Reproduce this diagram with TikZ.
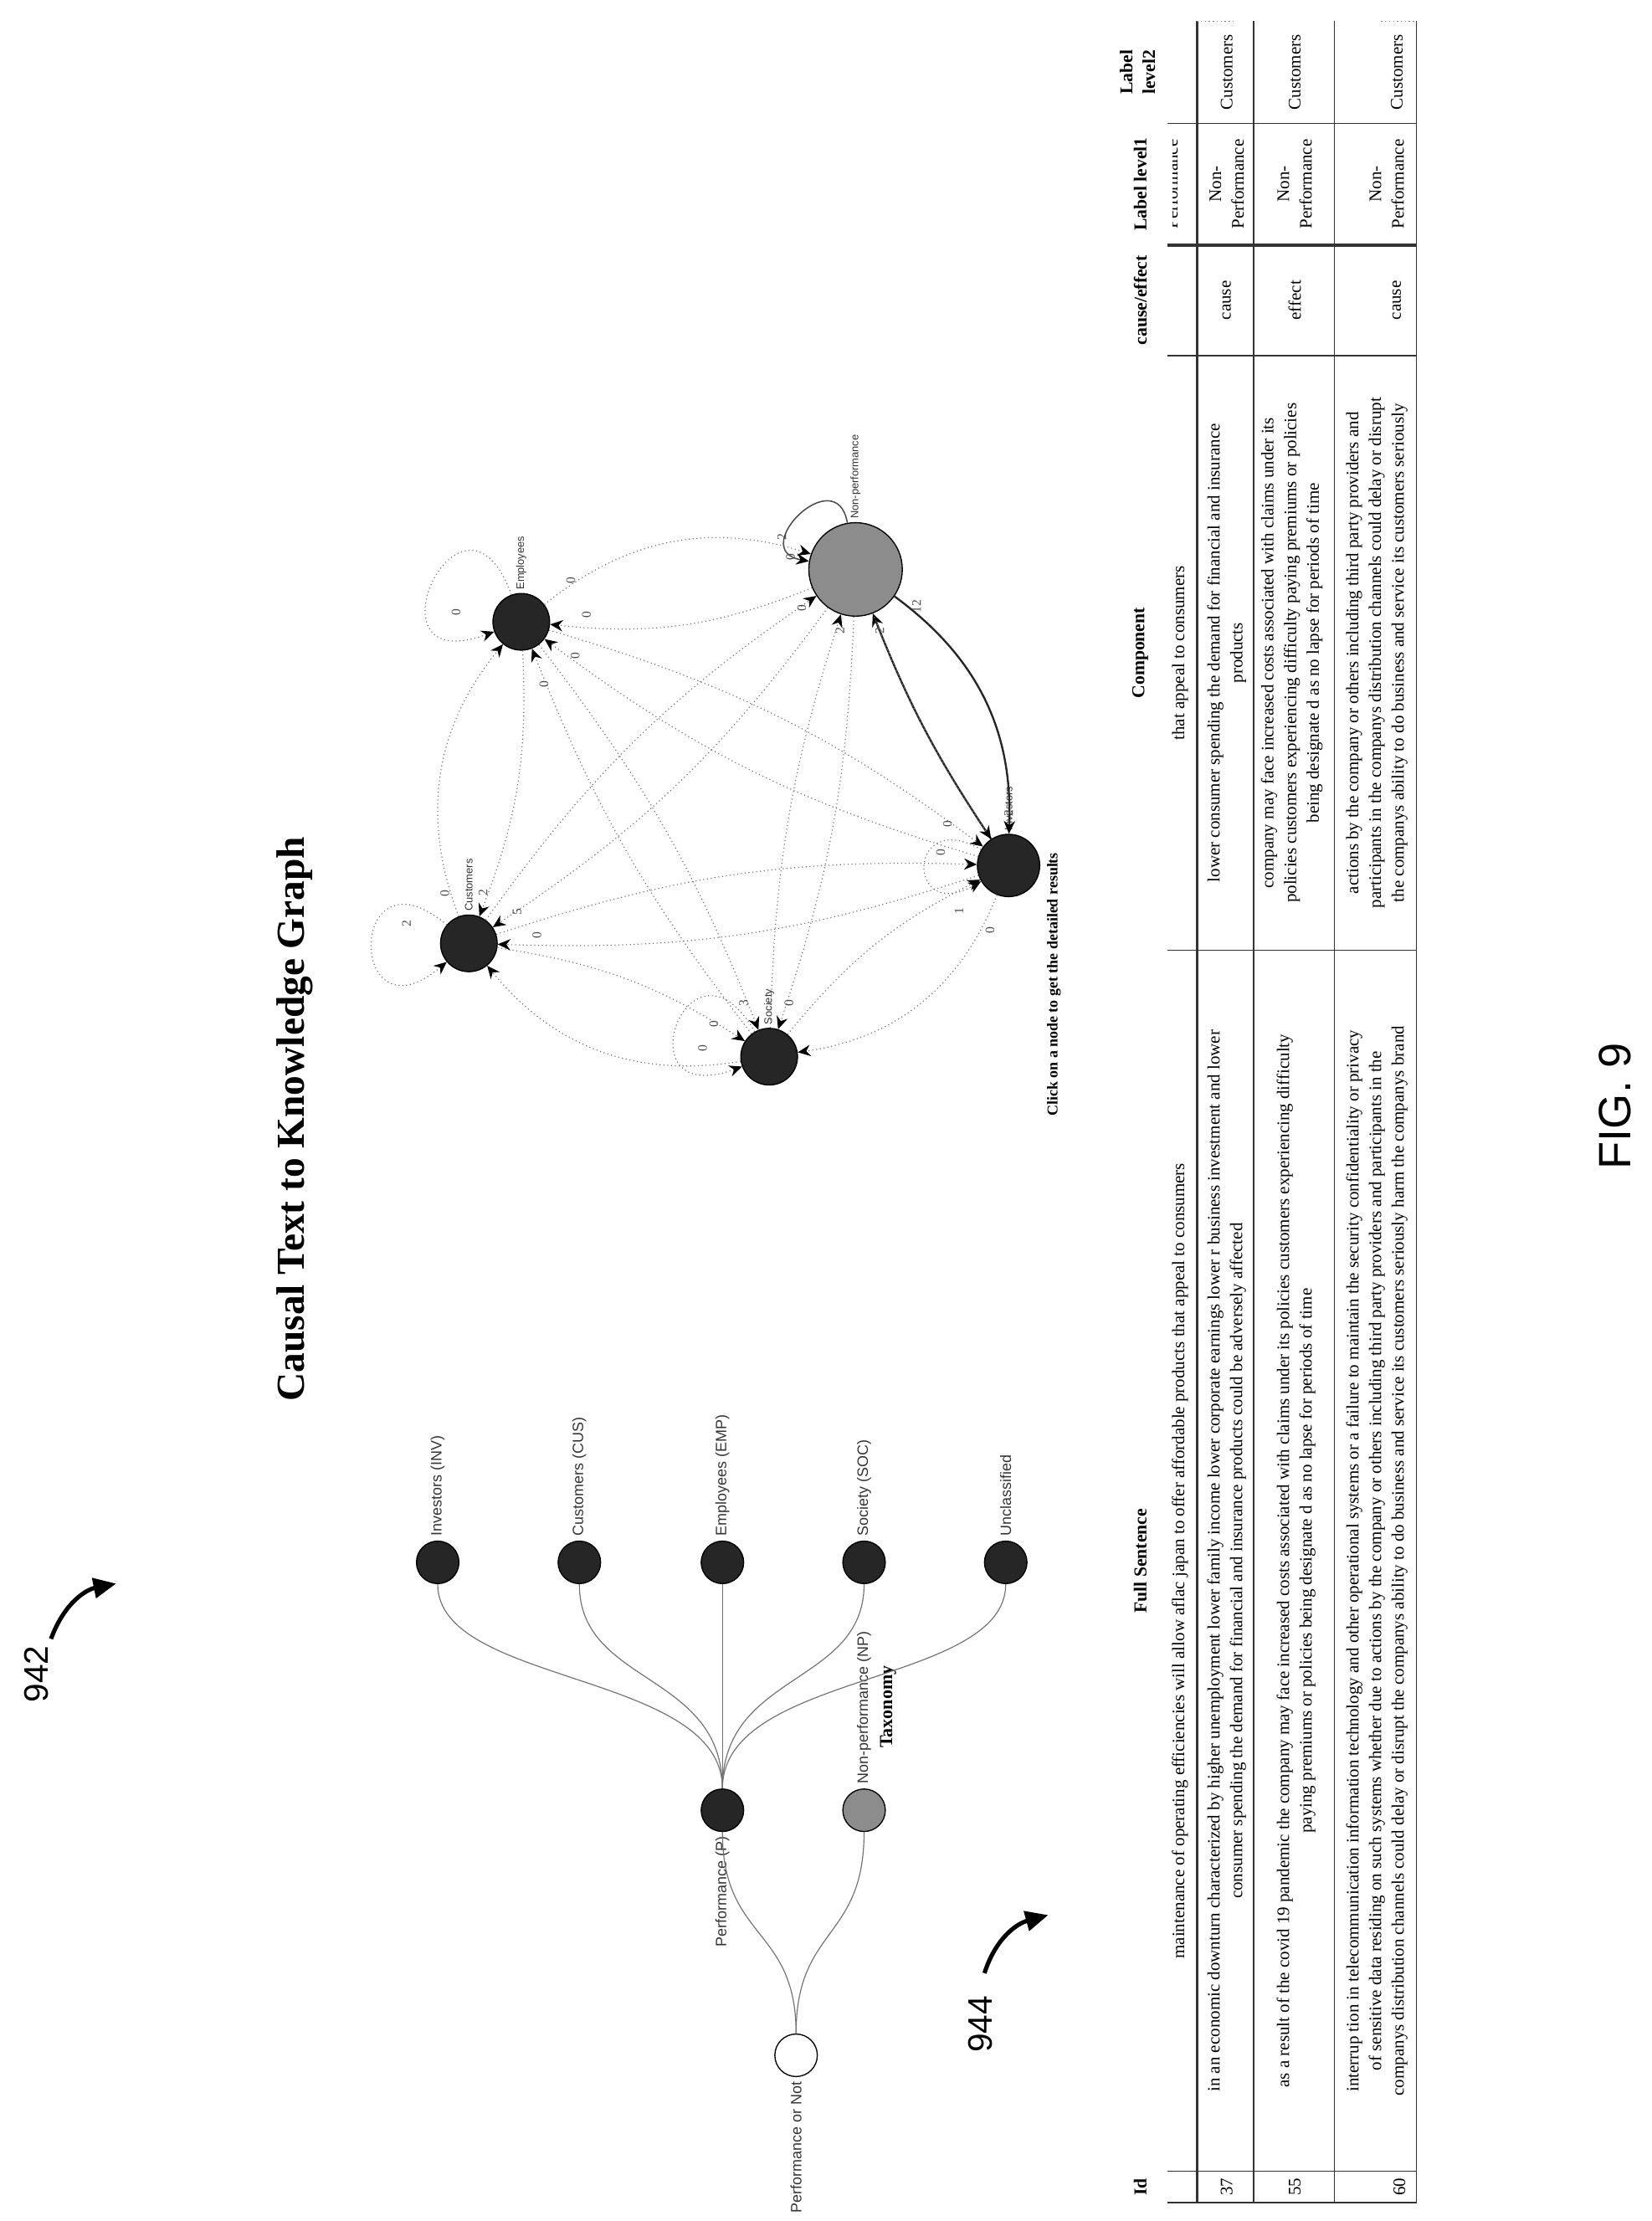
\documentclass[tikz,border=0pt]{standalone}
\usepackage{fontspec}
\setmainfont{Liberation Serif}
\setsansfont{Liberation Sans}
\usetikzlibrary{arrows.meta}
\begin{document}
\begin{tikzpicture}[x=0.5pt,y=-0.5pt,
  gnode/.style={circle,fill=black!85,draw=black,inner sep=0pt,minimum size=20},
  glab/.style={font=\sffamily\fontsize{3.8}{4}\selectfont,rotate=90,anchor=west,inner sep=1pt,text=black!80},
  elab/.style={font=\fontsize{4.6}{5}\selectfont,rotate=90,inner sep=0pt,text=black!70},
  gedge/.style={draw=black!55,densely dotted,line width=0.35pt,-{Stealth[length=4.5pt,width=4pt,color=black]}},
  hedge/.style={draw=black!85,line width=0.7pt,-{Stealth[length=4.5pt,width=4pt,color=black]}},
  tnode/.style={circle,fill=black!85,draw=black,inner sep=0pt,minimum size=15},
  tlab/.style={font=\sffamily\fontsize{5.3}{6}\selectfont,rotate=90,inner sep=1.5pt,text=black!80},
  tedge/.style={draw=black!55,line width=0.35pt},
  tline/.style={draw=black!80,line width=0.4pt},
  ttext/.style={font=\fontsize{6.2}{8}\selectfont,rotate=90,align=center,inner sep=0pt},
  thead/.style={font=\bfseries\fontsize{6.4}{8}\selectfont,rotate=90,align=center,inner sep=0pt},
  refnum/.style={font=\sffamily\fontsize{12}{12}\selectfont,rotate=90,inner sep=0pt},
  refarrow/.style={line width=1.5pt,-{Triangle[length=8pt,width=7pt]}}
]
\useasboundingbox (0,0) rectangle (1166,1568);

% ---------- reference numerals ----------
\node[refnum] (n942) at (26,1182) {942};
\coordinate (a942s) at (36,1157);
\coordinate (a942e) at (82,1118);
\draw[refarrow] (a942s) .. controls (46,1130) and (62,1122) .. (a942e);
\node[refnum] (n944) at (692,1429) {944};
\coordinate (a944s) at (695,1393);
\coordinate (a944e) at (740,1352);
\draw[refarrow] (a944s) .. controls (703,1368) and (718,1358) .. (a944e);
\node[font=\sffamily\fontsize{16}{16}\selectfont,rotate=90,inner sep=0pt] (fig) at (1140,781) {FIG. 9};

% ---------- title ----------
\node[font=\bfseries\fontsize{14}{14}\selectfont,rotate=90,inner sep=0pt] (title) at (208,790) {Causal Text to Knowledge Graph};
\node[font=\bfseries\fontsize{5.3}{6}\selectfont,rotate=90,inner sep=0pt] (click) at (744,695) {Click on a node to get the detailed results};

% ---------- knowledge graph ----------
\node[gnode] (gE) at (368,439) {};
\node[gnode,fill=black!45,minimum size=33] (gN) at (604,402) {};
\node[gnode,minimum size=22] (gI) at (712,611) {};
\node[gnode] (gC) at (331,666) {};
\node[gnode] (gS) at (543,746) {};
\node[glab] at (gE.north) {Employees};
\node[glab] at (gN.north) {Non-performance};
\node[glab] at (gI.north) {Investors};
\node[glab] at (gC.north) {Customers};
\node[glab] at (gS.north) {Society};

% outer ring arcs
\draw[gedge] (gE) to[bend left=28] (gN);
\draw[gedge] (gN) to[bend left=14] (gE);
\draw[gedge] (gI) to[bend left=30] (gS);
\draw[gedge] (gS) to[bend left=12] (gI);
\draw[gedge] (gS) to[bend left=30] (gC);
\draw[gedge] (gC) to[bend left=12] (gS);
\draw[gedge] (gC) to[bend left=30] (gE);
\draw[gedge] (gE) to[bend left=12] (gC);
% chords
\draw[gedge] (gE) to[bend left=10] (gI);
\draw[gedge] (gI) to[bend left=10] (gE);
\draw[gedge] (gE) to[bend left=8] (gS);
\draw[gedge] (gS) to[bend left=8] (gE);
\draw[gedge] (gN) to[bend left=8] (gS);
\draw[gedge] (gS) to[bend left=8] (gN);
\draw[gedge] (gN) to[bend left=10] (gC);
\draw[gedge] (gC) to[bend left=10] (gN);
\draw[gedge] (gI) to[bend left=10] (gC);
\draw[gedge] (gC) to[bend left=10] (gI);
% heavy NP - Investors
\draw[hedge] (gN) to[bend left=28] (gI);
\draw[hedge] (gI) to[bend left=6] (gN);
\draw[gedge] (gN) to[bend left=-6] (gI);
% self loops
\draw[gedge] (gE) to[out=110,in=200,looseness=9] (gE);
\draw[hedge,draw=black!70,line width=0.45pt] (gN) to[out=100,in=170,looseness=3] (gN);
\draw[gedge] (gI) to[out=150,in=210,looseness=7] (gI);
\draw[gedge] (gC) to[out=140,in=220,looseness=9] (gC);
\draw[gedge] (gS) to[out=120,in=200,looseness=9] (gS);
% edge labels
\foreach \p/\t in {{322,432}/0,{403,410}/0,{414,434}/0,{406,463}/0,{384,483}/0,
  {552,379}/2,{558,393}/0,{566,429}/0,{593,445}/2,{621,445}/2,{647,428}/12,
  {712,574}/2,{669,582}/0,{664,602}/0,{677,643}/1,{699,657}/0,
  {287,652}/2,{314,631}/0,{341,630}/2,{365,644}/5,{379,660}/0,
  {525,708}/3,{557,708}/0,{496,740}/0,{504,723}/0}
  \node[elab] at (\p) {\t};

% ---------- taxonomy tree ----------
\node[tnode,fill=white] (tR) at (562,1451) {};
\node[tnode] (tP) at (510,1278) {};
\node[tnode,fill=black!45] (tNP) at (610,1278) {};
\node[tnode] (t1) at (309,1103) {};
\node[tnode] (t2) at (409,1103) {};
\node[tnode] (t3) at (510,1103) {};
\node[tnode] (t4) at (610,1103) {};
\node[tnode] (t5) at (710,1103) {};
\node[tlab,anchor=east] at (tR.south) {Performance or Not};
\node[tlab,anchor=east] at (tP.south) {Performance (P)};
\node[tlab,anchor=west] at (tNP.north) {Non-performance (NP)};
\node[tlab,anchor=west] at (t1.north) {Investors (INV)};
\node[tlab,anchor=west] at (t2.north) {Customers (CUS)};
\node[tlab,anchor=west] at (t3.north) {Employees (EMP)};
\node[tlab,anchor=west] at (t4.north) {Society (SOC)};
\node[tlab,anchor=west] at (t5.north) {Unclassified};
\node[font=\bfseries\fontsize{6.5}{7}\selectfont,rotate=90,inner sep=0pt] (tax) at (627,1205) {Taxonomy};
\draw[tedge] (tR.north) .. controls (562,1360) and (510,1370) .. (tP.south);
\draw[tedge] (tR.north) .. controls (562,1360) and (610,1370) .. (tNP.south);
\foreach \n in {t1,t2,t4,t5}
  \draw[tedge] (tP.north) .. controls (510,1180) and (\n.south |- 0,1190) .. (\n.south);
\draw[tedge] (tP.north) -- (t3.south);

% ---------- table ----------
\draw[tline,line width=0.9pt] (845,15) -- (845,1555);
\foreach \x in {885,942,1000} \draw[tline] (\x,15) -- (\x,1555);
\foreach \y in {87,251,671,1533,1555} \draw[tline] (824,\y) -- (1000,\y);
\draw[tline,line width=1pt] (824,173) -- (1000,173);
\draw[tline,densely dotted,draw=black!50] (845,15) -- (873,15);
\draw[tline,densely dotted,draw=black!50] (975,15) -- (1000,15);

% header
\node[thead] at (805,1544) {Id};
\node[thead] at (805,1102) {Full Sentence};
\node[thead] at (805,461) {Component};
\node[thead] at (805,212) {cause/effect};
\node[thead] at (805,130) {Label level1};
\node[thead] at (803,51) {Label\\level2};

% partial row
\node[ttext] at (833,1102) {maintenance of operating efficiencies will allow aflac japan to offer affordable products that appeal to consumers};
\node[ttext] at (833,461) {that appeal to consumers};
\begin{scope}
\clip (828,90) rectangle (845,170);
\node[ttext] at (827,130) {Performance};
\end{scope}

% row 37
\node[ttext] at (866,1544) {37};
\node[ttext] at (866,1102) {in an economic downturn characterized by higher unemployment lower family income lower corporate earnings lower r business investment and lower\\consumer spending the demand for financial and insurance products could be adversely affected};
\node[ttext] at (866,461) {lower consumer spending the demand for financial and insurance\\products};
\node[ttext] at (866,212) {cause};
\node[ttext] at (866,130) {Non-\\Performance};
\node[ttext] at (866,51) {Customers};

% row 55
\node[ttext] at (914,1544) {55};
\node[ttext] at (915,1102) {as a result of the covid 19 pandemic the company may face increased costs associated with claims under its policies customers experiencing difficulty\\paying premiums or policies being designate d as no lapse for periods of time};
\node[ttext] at (912,461) {company may face increased costs associated with claims under its\\policies customers experiencing difficulty paying premiums or policies\\being designate d as no lapse for periods of time};
\node[ttext] at (914,212) {effect};
\node[ttext] at (914,130) {Non-\\Performance};
\node[ttext] at (914,51) {Customers};

% row 60
\node[ttext] at (988,1544) {60};
\node[ttext] at (972,1102) {interrup tion in telecommunication information technology and other operational systems or a failure to maintain the security confidentiality or privacy\\of sensitive data residing on such systems whether due to actions by the company or others including third party providers and participants in the\\companys distribution channels could delay or disrupt the companys ability to do business and service its customers seriously harm the companys brand};
\node[ttext] at (972,461) {actions by the company or others including third party providers and\\participants in the companys distribution channels could delay or disrupt\\the companys ability to do business and service its customers seriously};
\node[ttext] at (986,212) {cause};
\node[ttext] at (979,130) {Non-\\Performance};
\node[ttext] at (986,51) {Customers};
\end{tikzpicture}
\end{document}
